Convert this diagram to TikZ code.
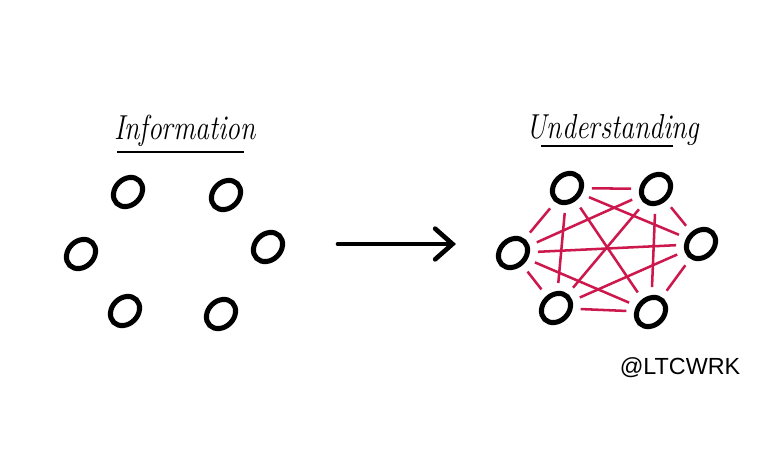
\documentclass[tikz,border=0pt]{standalone}
\usepackage{fontspec}
\newfontfamily\handlefont{Liberation Sans}
\usetikzlibrary{arrows.meta,shapes.geometric}
\definecolor{linkred}{RGB}{204,24,76}
\begin{document}
\begin{tikzpicture}[
  x=0.75pt,y=-0.75pt,
  dot/.style={ellipse,draw=black,line width=3.8pt,minimum width=24pt,
    minimum height=19.5pt,inner sep=0pt,rotate=45},
  link/.style={draw=linkred,line width=1.9pt,shorten <=6pt,shorten >=6pt},
  title/.style={font=\fontsize{26}{28}\selectfont\itshape,inner sep=0pt,anchor=base},
  rule/.style={line width=1.6pt},
  arrowline/.style={line width=3.5pt,line cap=round,
    -{Straight Barb[length=13pt,width=23pt,line cap=round]}}
]
\useasboundingbox (0,0) rectangle (768,453);
% left: loose dots
\node[title] (infotitle) at (185,140) {\scalebox{0.8}[1]{Information}};
\draw[rule] (117,152) -- (244,152);
\node[dot] (i1) at (128,192) {};
\node[dot] (i2) at (226,195) {};
\node[dot] (i3) at (81,254) {};
\node[dot] (i4) at (268,247) {};
\node[dot] (i5) at (125,311) {};
\node[dot] (i6) at (221,314) {};
% arrow
\coordinate (arrowtail) at (338,244);
\coordinate (arrowtip) at (456,244);
\draw[arrowline] (arrowtail) -- (arrowtip);
% right: connected dots
\node[title] (undertitle) at (613,138) {\scalebox{0.8}[1]{Understanding}};
\draw[rule] (541,146) -- (673,146);
\node[dot] (u1) at (567,188) {};
\node[dot] (u2) at (656,189) {};
\node[dot] (u3) at (513,253) {};
\node[dot] (u4) at (701,244) {};
\node[dot] (u5) at (556,308) {};
\node[dot] (u6) at (651,312) {};
\foreach \a/\b in {u1/u2,u1/u3,u1/u4,u1/u5,u1/u6,u2/u3,u2/u4,u2/u5,u2/u6,
  u3/u4,u3/u5,u3/u6,u4/u5,u4/u6,u5/u6}
  \draw[link] (\a) -- (\b);
\node[font=\handlefont\fontsize{17.5}{19}\selectfont,inner sep=0pt] (handle) at (680,368) {@LTCWRK};
\end{tikzpicture}
\end{document}
